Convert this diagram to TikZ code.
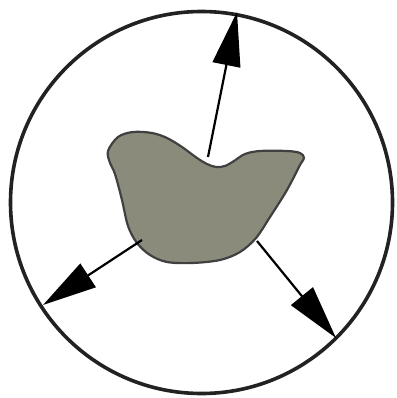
\documentclass[tikz,border=0pt]{standalone}
\usetikzlibrary{arrows.meta}
\definecolor{blobfill}{HTML}{8B8B7C}
\definecolor{blobedge}{HTML}{404040}
\definecolor{ringcol}{HTML}{222222}
\begin{document}
\begin{tikzpicture}[x=1pt,y=-1pt,
  ring/.style={draw=ringcol,line width=3.6pt},
  blob/.style={fill=blobfill,draw=blobedge,line width=2.2pt,line join=round},
  ray/.style={draw=black,line width=2.2pt,-{Triangle[length=54pt,width=28pt]}}]
\useasboundingbox (0,0) rectangle (396,398);
\coordinate (c) at (201.5,202.5);
\draw[ring] (c) circle[radius=191];
\draw[blob] plot[smooth cycle,tension=0.55] coordinates{
 (108,151) (118,137) (133,132) (152,133) (167,138) (182,147) (197,158)
 (207,164) (216,167) (225,166) (234,161) (245,154) (260,151) (287,151)
 (300,153) (304,158) (300,165) (287,190) (270,217) (256,238) (240,252)
 (220,260) (192,263) (167,262) (150,255) (137,243) (128,226) (122,200)
 (115,174) (110,163)};
\coordinate (s1) at (208,157);
\coordinate (e1) at (237,12);
\coordinate (s2) at (142,240);
\coordinate (e2) at (43,305);
\coordinate (s3) at (257,241);
\coordinate (e3) at (336,338);
\draw[ray] (s1) -- (e1);
\draw[ray] (s2) -- (e2);
\draw[ray] (s3) -- (e3);
\end{tikzpicture}
\end{document}
